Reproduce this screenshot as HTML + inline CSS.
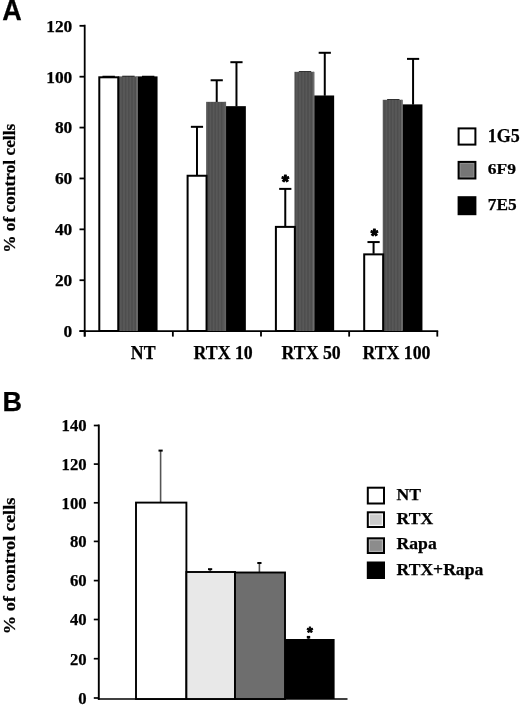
<!DOCTYPE html>
<html><head><meta charset="utf-8"><title>Figure</title>
<style>
html,body{margin:0;padding:0;background:#fff;}
body{width:520px;height:706px;overflow:hidden;}
svg{display:block;filter:blur(0.5px);}
text{font-family:"Liberation Serif",serif;font-weight:bold;fill:#000;stroke:#000;stroke-width:0.25px;}
.ast{font-family:"Liberation Sans",sans-serif;font-size:18.5px;text-anchor:middle;stroke:#000;stroke-width:1.1px;stroke-linejoin:round;}
.pl{font-family:"Liberation Sans",sans-serif;font-weight:bold;font-size:27px;}
</style></head><body>
<svg width="520" height="706" viewBox="0 0 520 706">
<defs><pattern id="gp" width="3.2" height="8" patternUnits="userSpaceOnUse"><rect width="3.2" height="8" fill="#4e4e4e"/><rect x="1.6" width="1.6" height="8" fill="#585858"/></pattern></defs>
<rect width="520" height="706" fill="#fff"/>

<text class="pl" transform="translate(2.3,19.8) scale(1,1.06)">A</text>
<line x1="84.7" y1="24.8" x2="84.7" y2="336.6" stroke="#000" stroke-width="1.8"/>
<line x1="79.5" y1="331.1" x2="438.2" y2="331.1" stroke="#000" stroke-width="1.8"/>
<line x1="79.5" y1="331.10" x2="84.7" y2="331.10" stroke="#000" stroke-width="1.8"/>
<text x="72.3" y="336.90" font-size="17.4" text-anchor="end">0</text>
<line x1="79.5" y1="280.22" x2="84.7" y2="280.22" stroke="#000" stroke-width="1.8"/>
<text x="72.3" y="286.02" font-size="17.4" text-anchor="end">20</text>
<line x1="79.5" y1="229.34" x2="84.7" y2="229.34" stroke="#000" stroke-width="1.8"/>
<text x="72.3" y="235.14" font-size="17.4" text-anchor="end">40</text>
<line x1="79.5" y1="178.46" x2="84.7" y2="178.46" stroke="#000" stroke-width="1.8"/>
<text x="72.3" y="184.26" font-size="17.4" text-anchor="end">60</text>
<line x1="79.5" y1="127.58" x2="84.7" y2="127.58" stroke="#000" stroke-width="1.8"/>
<text x="72.3" y="133.38" font-size="17.4" text-anchor="end">80</text>
<line x1="79.5" y1="76.70" x2="84.7" y2="76.70" stroke="#000" stroke-width="1.8"/>
<text x="72.3" y="82.50" font-size="17.4" text-anchor="end">100</text>
<line x1="79.5" y1="25.82" x2="84.7" y2="25.82" stroke="#000" stroke-width="1.8"/>
<text x="72.3" y="31.62" font-size="17.4" text-anchor="end">120</text>
<line x1="84.7" y1="331.1" x2="84.7" y2="336.6" stroke="#000" stroke-width="1.8"/>
<line x1="172.85000000000002" y1="331.1" x2="172.85000000000002" y2="336.6" stroke="#000" stroke-width="1.8"/>
<line x1="261.0" y1="331.1" x2="261.0" y2="336.6" stroke="#000" stroke-width="1.8"/>
<line x1="349.15000000000003" y1="331.1" x2="349.15000000000003" y2="336.6" stroke="#000" stroke-width="1.8"/>
<line x1="437.3" y1="331.1" x2="437.3" y2="336.6" stroke="#000" stroke-width="1.8"/>
<text transform="translate(14.8,188.3) rotate(-90)" font-size="17.4" text-anchor="middle" textLength="129" lengthAdjust="spacingAndGlyphs">% of control cells</text>
<line x1="141.97" y1="76.40" x2="154.37" y2="76.40" stroke="#000" stroke-width="1.3"/>
<rect x="137.60" y="76.40" width="19.95" height="254.60" fill="#000"/>
<line x1="122.22" y1="76.40" x2="134.62" y2="76.40" stroke="#000" stroke-width="1.3"/>
<rect x="117.85" y="76.40" width="19.95" height="254.60" fill="url(#gp)"/>
<rect x="136.20" y="76.40" width="1.2" height="254.60" fill="#6c6c6c"/>
<line x1="102.47" y1="76.40" x2="114.88" y2="76.40" stroke="#000" stroke-width="1.3"/>
<rect x="99.30" y="77.30" width="18.95" height="253.70" fill="#fff" stroke="#000" stroke-width="2"/>
<line x1="236.47" y1="62.20" x2="236.47" y2="106.46" stroke="#000" stroke-width="2"/>
<line x1="230.37" y1="62.20" x2="242.57" y2="62.20" stroke="#000" stroke-width="2"/>
<rect x="225.90" y="106.16" width="19.95" height="224.84" fill="#000"/>
<line x1="216.72" y1="80.26" x2="216.72" y2="102.14" stroke="#000" stroke-width="2"/>
<line x1="210.62" y1="80.26" x2="222.82" y2="80.26" stroke="#000" stroke-width="2"/>
<rect x="206.15" y="101.84" width="19.95" height="229.16" fill="url(#gp)"/>
<rect x="224.50" y="101.84" width="1.2" height="229.16" fill="#6c6c6c"/>
<line x1="196.97" y1="126.82" x2="196.97" y2="175.15" stroke="#000" stroke-width="2"/>
<line x1="190.87" y1="126.82" x2="203.07" y2="126.82" stroke="#000" stroke-width="2"/>
<rect x="187.60" y="175.75" width="18.95" height="155.25" fill="#fff" stroke="#000" stroke-width="2"/>
<line x1="324.77" y1="52.79" x2="324.77" y2="95.78" stroke="#000" stroke-width="2"/>
<line x1="318.67" y1="52.79" x2="330.88" y2="52.79" stroke="#000" stroke-width="2"/>
<rect x="314.20" y="95.48" width="19.95" height="235.52" fill="#000"/>
<line x1="298.82" y1="71.82" x2="311.22" y2="71.82" stroke="#000" stroke-width="1.3"/>
<rect x="294.45" y="71.82" width="19.95" height="259.18" fill="url(#gp)"/>
<rect x="312.80" y="71.82" width="1.2" height="259.18" fill="#6c6c6c"/>
<line x1="285.27" y1="188.89" x2="285.27" y2="226.29" stroke="#000" stroke-width="2"/>
<line x1="279.17" y1="188.89" x2="291.38" y2="188.89" stroke="#000" stroke-width="2"/>
<rect x="275.90" y="226.89" width="18.95" height="104.11" fill="#fff" stroke="#000" stroke-width="2"/>
<line x1="413.07" y1="58.89" x2="413.07" y2="104.68" stroke="#000" stroke-width="2"/>
<line x1="406.97" y1="58.89" x2="419.18" y2="58.89" stroke="#000" stroke-width="2"/>
<rect x="402.50" y="104.38" width="19.95" height="226.62" fill="#000"/>
<line x1="387.12" y1="99.80" x2="399.52" y2="99.80" stroke="#000" stroke-width="1.3"/>
<rect x="382.75" y="99.80" width="19.95" height="231.20" fill="url(#gp)"/>
<rect x="401.10" y="99.80" width="1.2" height="231.20" fill="#6c6c6c"/>
<line x1="373.57" y1="242.06" x2="373.57" y2="253.76" stroke="#000" stroke-width="2"/>
<line x1="367.47" y1="242.06" x2="379.68" y2="242.06" stroke="#000" stroke-width="2"/>
<rect x="364.20" y="254.36" width="18.95" height="76.64" fill="#fff" stroke="#000" stroke-width="2"/>
<text class="ast" x="285.4" y="188.2">*</text>
<text class="ast" x="374.4" y="242.4">*</text>
<text x="143.2" y="359.1" font-size="17.8" text-anchor="middle">NT</text>
<text x="223.2" y="359.1" font-size="17.8" text-anchor="middle">RTX 10</text>
<text x="311.2" y="359.1" font-size="17.8" text-anchor="middle">RTX 50</text>
<text x="396.5" y="359.1" font-size="17.8" text-anchor="middle">RTX 100</text>
<rect x="458.6" y="128.40" width="16.8" height="16.20" fill="#fff" stroke="#000" stroke-width="2"/>
<text transform="translate(487.8,142.0) scale(1,1)" font-size="18">1G5</text>
<rect x="458.6" y="161.90" width="16.8" height="16.60" fill="#909090" stroke="#000" stroke-width="2"/>
<rect x="460.6" y="163.90" width="12.8" height="12.60" fill="#767676"/>
<text transform="translate(487.8,174.0) scale(1,0.85)" font-size="17.5">6F9</text>
<rect x="458.6" y="197.20" width="16.8" height="17.00" fill="#000" stroke="#000" stroke-width="2"/>
<text transform="translate(487.8,210.2) scale(1,1)" font-size="17.3">7E5</text>
<text class="pl" x="2.5" y="411.2">B</text>
<line x1="98.8" y1="424.6" x2="98.8" y2="699.8" stroke="#000" stroke-width="1.9"/>
<line x1="97.9" y1="699.0" x2="347.5" y2="699.0" stroke="#000" stroke-width="1.7"/>
<line x1="93.8" y1="425.50" x2="98.8" y2="425.50" stroke="#000" stroke-width="1.7"/>
<text x="86.6" y="431.30" font-size="16.7" text-anchor="end">140</text>
<line x1="93.8" y1="464.10" x2="98.8" y2="464.10" stroke="#000" stroke-width="1.7"/>
<text x="86.6" y="469.90" font-size="16.7" text-anchor="end">120</text>
<line x1="93.8" y1="502.80" x2="98.8" y2="502.80" stroke="#000" stroke-width="1.7"/>
<text x="86.6" y="508.60" font-size="16.7" text-anchor="end">100</text>
<line x1="93.8" y1="541.40" x2="98.8" y2="541.40" stroke="#000" stroke-width="1.7"/>
<text x="86.6" y="547.20" font-size="16.7" text-anchor="end">80</text>
<line x1="93.8" y1="580.60" x2="98.8" y2="580.60" stroke="#000" stroke-width="1.7"/>
<text x="86.6" y="586.40" font-size="16.7" text-anchor="end">60</text>
<line x1="93.8" y1="619.50" x2="98.8" y2="619.50" stroke="#000" stroke-width="1.7"/>
<text x="86.6" y="625.30" font-size="16.7" text-anchor="end">40</text>
<line x1="93.8" y1="658.70" x2="98.8" y2="658.70" stroke="#000" stroke-width="1.7"/>
<text x="86.6" y="664.50" font-size="16.7" text-anchor="end">20</text>
<line x1="93.8" y1="698.00" x2="98.8" y2="698.00" stroke="#000" stroke-width="1.7"/>
<text x="86.6" y="703.80" font-size="16.7" text-anchor="end">0</text>
<text transform="translate(14.8,565.9) rotate(-90)" font-size="17.4" text-anchor="middle" textLength="136.7" lengthAdjust="spacingAndGlyphs">% of control cells</text>
<line x1="160.60" y1="450.60" x2="160.60" y2="502.60" stroke="#555" stroke-width="1.6"/>
<line x1="158.50" y1="450.60" x2="162.70" y2="450.60" stroke="#000" stroke-width="2"/>
<rect x="136.00" y="502.60" width="50.40" height="196.40" fill="#fff" stroke="#000" stroke-width="1.9"/>
<line x1="210.10" y1="569.20" x2="210.10" y2="572.00" stroke="#555" stroke-width="1.6"/>
<line x1="208.00" y1="569.20" x2="212.20" y2="569.20" stroke="#000" stroke-width="2"/>
<rect x="186.40" y="572.00" width="48.60" height="127.00" fill="#e8e8e8" stroke="#000" stroke-width="1.9"/>
<line x1="259.40" y1="563.00" x2="259.40" y2="572.50" stroke="#555" stroke-width="1.6"/>
<line x1="257.30" y1="563.00" x2="261.50" y2="563.00" stroke="#000" stroke-width="2"/>
<rect x="235.00" y="572.50" width="50.00" height="126.50" fill="#6e6e6e" stroke="#000" stroke-width="1.9"/>
<line x1="308.50" y1="637.20" x2="308.50" y2="639.60" stroke="#555" stroke-width="1.6"/>
<line x1="306.80" y1="637.20" x2="310.20" y2="637.20" stroke="#000" stroke-width="2.6"/>
<rect x="285.00" y="639.00" width="49.60" height="60.00" fill="#000"/>
<text class="ast" x="310" y="636.9" style="font-size:15px;stroke-width:0.9px">*</text>
<rect x="367.8" y="487.70" width="16.2" height="15.80" fill="#fff" stroke="#000" stroke-width="2"/>
<text x="396.6" y="500.2" font-size="17.6">NT</text>
<rect x="367.8" y="512.30" width="16.2" height="14.70" fill="#f2f2f2" stroke="#000" stroke-width="2"/>
<rect x="370" y="514.50" width="11.8" height="10.30" fill="#cbcbcb"/>
<text x="396.6" y="523.5" font-size="17.6">RTX</text>
<rect x="367.8" y="538.30" width="16.2" height="14.70" fill="#b4b4b4" stroke="#000" stroke-width="2"/>
<rect x="370" y="540.50" width="11.8" height="10.30" fill="#8c8c8c"/>
<text x="396.6" y="548.5" font-size="17.6">Rapa</text>
<rect x="367.8" y="562.50" width="16.2" height="15.50" fill="#000" stroke="#000" stroke-width="2"/>
<text x="396.6" y="575.2" font-size="17.6">RTX+Rapa</text>
</svg></body></html>
